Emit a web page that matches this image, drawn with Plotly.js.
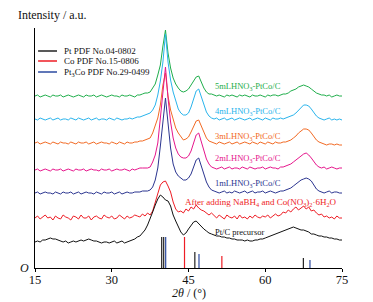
<!DOCTYPE html>
<html>
<head>
<meta charset="utf-8">
<script src="https://cdn.plot.ly/plotly-3.0.1.min.js"></script>
<style>html,body{margin:0;padding:0;background:#fff;}#chart{width:373px;height:302px;}</style>
</head>
<body>
<div id="chart"></div>
<script>
// 2θ grid (degrees)
const twoTheta = [
15,15.5,16,16.5,17,17.5,18,18.5,19,19.5,
20,20.5,21,21.5,22,22.5,23,23.5,24,24.5,
25,25.5,26,26.5,27,27.5,28,28.5,29,29.5,
30,30.5,31,31.5,32,32.5,33,33.5,34,34.5,
35,35.5,36,36.5,37,37.5,38,38.5,39,39.5,
40,40.5,41,41.5,42,42.5,43,43.5,44,44.5,
45,45.5,46,46.5,47,47.5,48,48.5,49,49.5,
50,50.5,51,51.5,52,52.5,53,53.5,54,54.5,
55,55.5,56,56.5,57,57.5,58,58.5,59,59.5,
60,60.5,61,61.5,62,62.5,63,63.5,64,64.5,
65,65.5,66,66.5,67,67.5,68,68.5,69,69.5,
70,70.5,71,71.5,72,72.5,73,73.5,74,74.5,
75];

// Intensities (a.u., offset stacked)
const hno3_5mL = [
172,173,171,172,173,172,171,173,172,172,
173,171,172,173,172,171,172,173,172,171,
173,172,172,173,171,172,173,172,171,172,
173,172,172,171,173,172,172,173,172,171,
173,173,174,175,175,176,180,184,193,203,
222,238,215,200,190,184,180,177,176,177,
179,183,188,191,192,186,180,176,174,174,
173,172,173,172,171,173,172,173,172,171,
173,172,173,172,171,173,172,172,173,172,
171,173,172,173,173,172,173,174,174,175,
177,178,179,181,182,183,182,181,179,177,
175,174,173,173,172,173,171,172,173,172,
172];
const hno3_4mL = [
149,148,150,149,148,149,150,148,149,150,
148,149,149,148,150,149,148,150,149,148,
149,150,148,149,150,148,149,149,148,150,
149,148,150,149,148,149,149,150,149,150,
151,151,152,153,154,155,158,163,173,187,
206,234,206,188,176,166,159,155,153,153,
155,161,170,177,179,172,163,156,152,150,
149,150,148,149,150,148,149,150,148,149,
150,149,148,149,150,148,149,150,149,148,
150,149,148,150,149,149,150,149,150,151,
152,153,155,158,161,163,163,162,159,155,
152,150,149,148,149,150,148,149,148,149,
148];
const hno3_3mL = [
125,126,124,125,126,125,124,126,125,124,
126,125,125,124,126,125,124,126,125,125,
126,124,125,126,124,125,126,125,125,124,
126,125,124,126,125,124,126,125,125,126,
126,127,127,128,129,130,135,142,150,163,
183,195,172,158,148,140,135,131,128,129,
131,136,142,147,148,142,135,130,127,126,
125,124,126,125,124,125,126,124,125,126,
124,125,126,125,124,126,125,124,126,125,
124,126,125,124,126,125,125,126,126,127,
128,130,132,135,137,139,139,138,135,131,
128,126,125,124,123,124,124,123,124,123,
123];
const hno3_2mL = [
98,99,97,98,99,98,97,99,98,98,
99,97,98,99,98,97,99,98,98,99,
97,98,99,98,98,97,99,98,98,99,
97,98,99,98,98,99,98,97,99,98,
99,100,100,100,100,101,106,113,125,150,
175,201,170,146,130,120,114,111,110,110,
112,117,125,133,135,127,117,109,104,101,
100,99,100,101,99,100,101,99,100,100,
99,101,100,99,101,100,99,100,100,101,
99,100,101,100,100,99,101,101,102,103,
104,106,108,110,112,114,115,113,110,106,
103,101,100,101,99,100,101,100,99,100,
100];
const hno3_1mL = [
75,76,74,75,76,75,75,74,76,75,
74,76,75,75,76,74,75,76,74,75,
76,75,75,74,76,75,74,76,75,75,
76,74,75,76,74,75,76,75,75,76,
76,76,77,77,77,78,81,88,100,122,
150,170,145,120,104,96,92,90,88,88,
90,94,101,108,110,102,93,86,81,78,
77,76,75,76,77,75,76,75,77,76,
75,76,77,75,76,77,75,76,76,77,
75,76,77,76,75,76,77,77,78,79,
80,82,84,86,88,89,90,89,87,83,
79,77,76,75,76,77,75,76,76,75,
75];
const afterNaBH4 = [
50,52,49,51,53,50,51,48,52,50,
49,53,51,50,48,52,51,49,53,50,
50,52,48,51,52,50,49,53,51,50,
52,49,50,53,51,49,52,50,51,53,
52,51,54,52,55,53,57,66,75,83,
86,87,82,76,66,59,56,57,55,59,
57,61,59,63,60,58,57,55,53,55,
52,50,53,51,49,53,51,50,52,49,
53,50,51,49,52,50,53,51,50,52,
51,53,50,52,54,52,53,56,55,58,
56,59,61,58,60,62,59,61,57,58,
55,53,54,51,52,50,51,49,52,50,
50];
const ptcPrecursor = [
26,27,26,28,28,29,30,29,29,28,
27,26,27,25,26,27,26,27,28,27,
28,29,28,27,27,26,25,26,26,25,
26,27,25,26,27,25,26,27,28,29,
31,32,35,38,43,49,56,63,69,73,
71,68,67,62,53,47,41,36,33,35,
39,43,46,47,44,42,39,37,35,34,
33,32,32,31,31,30,30,29,29,28,
28,28,27,28,27,27,28,28,29,29,
30,31,32,33,34,35,36,37,38,39,
40,41,40,39,38,38,37,36,34,34,
33,32,32,31,31,30,30,29,29,28,
28];

// Standard card stick positions (2θ) and relative heights
const ptPos = [39.76, 40.15, 46.24, 67.45];
const ptInt = [31, 31, 16, 10];
const coPos = [44.22, 51.52];
const coInt = [31, 12];
const pt3coPos = [40.54, 47.05, 68.74];
const pt3coInt = [31, 14, 8];

const seriesNames = ['5mLHNO<sub>3</sub>-PtCo/C','4mLHNO<sub>3</sub>-PtCo/C','3mLHNO<sub>3</sub>-PtCo/C',
  '2mLHNO<sub>3</sub>-PtCo/C','1mLHNO<sub>3</sub>-PtCo/C',
  'After adding NaBH<sub>4</sub> and Co(NO<sub>3</sub>)<sub>2</sub>·6H<sub>2</sub>O','Pt/C precursor'];
const legendNames = ['Pt PDF No.04-0802','Co PDF No.15-0806','Pt<sub>3</sub>Co PDF No.29-0499'];
const xTicks = [15, 30, 45, 60, 75];

const colors = ['#1fae4b','#29b4ec','#f26a24','#e6168c','#2b3590','#ee1d25','#111111'];
const stickColors = ['#222222','#ee1d25','#2b4aa0'];
const FONT = 'Liberation Serif';

const curves = [hno3_5mL, hno3_4mL, hno3_3mL, hno3_2mL, hno3_1mL, afterNaBH4, ptcPrecursor];
const traces = curves.map((c, i) => ({
  type: 'scatter', mode: 'lines', x: twoTheta, y: c,
  line: {color: colors[i], width: 1}, showlegend: false, hoverinfo: 'skip'
}));

function sticks(pos, inten, color) {
  const x = [], y = [];
  pos.forEach((p, i) => { x.push(p, p, null); y.push(0, inten[i], null); });
  return {type: 'scatter', mode: 'lines', x: x, y: y, line: {color: color, width: 1.2},
    showlegend: false, hoverinfo: 'skip', connectgaps: false};
}
traces.push(sticks(ptPos, ptInt, stickColors[0]));
traces.push(sticks(coPos, coInt, stickColors[1]));
traces.push(sticks(pt3coPos, pt3coInt, stickColors[2]));

// label positions (x in 2θ, y in intensity units)
const labelX = [49.8, 49.8, 49.8, 49.8, 49.8, 43.95, 49.8];
const labelY = [182, 157, 132, 110, 85, 66, 36];

const annotations = seriesNames.map((t, i) => ({
  x: labelX[i], y: labelY[i], xref: 'x', yref: 'y', text: t, showarrow: false,
  xanchor: 'left', yanchor: 'middle', font: {family: FONT, size: i === 5 ? 9 : 8.5, color: colors[i]}
}));

const legY = [217, 207, 196];
const shapes = [];
legendNames.forEach((t, i) => {
  shapes.push({type: 'line', xref: 'x', yref: 'y', x0: 15.6, x1: 19.3, y0: legY[i], y1: legY[i],
    line: {color: stickColors[i], width: 1.5}});
  annotations.push({x: 20.2, y: legY[i], xref: 'x', yref: 'y', text: t, showarrow: false,
    xanchor: 'left', yanchor: 'middle', font: {family: FONT, size: 9, color: '#111'}});
});

// origin label
annotations.push({x: -0.012, y: 0, xref: 'paper', yref: 'y', text: '<i>O</i>', showarrow: false,
  xanchor: 'right', yanchor: 'middle', font: {family: FONT, size: 12, color: '#111'}});
// x axis title
annotations.push({x: 0.5, y: -0.106, xref: 'paper', yref: 'paper', text: '<i>2θ</i> / (°)', showarrow: false,
  xanchor: 'center', yanchor: 'middle', font: {family: FONT, size: 12, color: '#111'}});
// y axis arrow head
annotations.push({x: 15, y: 241, xref: 'x', yref: 'y', text: '', showarrow: true,
  ax: 0, ay: 12, arrowhead: 2, arrowsize: 0.9, arrowwidth: 1, arrowcolor: '#000', standoff: 0});

const layout = {
  width: 373, height: 302,
  margin: {l: 35, r: 31, t: 28, b: 34, pad: 0},
  paper_bgcolor: '#fff', plot_bgcolor: '#fff',
  showlegend: false,
  font: {family: FONT, color: '#111'},
  title: {text: 'Intensity / a.u.', x: 0.048, xref: 'container', xanchor: 'left',
    y: 0.95, yref: 'container', yanchor: 'middle', font: {family: FONT, size: 12, color: '#111'}},
  xaxis: {range: [15, 75], tickvals: xTicks, ticktext: xTicks.map(String), automargin: false,
    showline: true, linecolor: '#000', linewidth: 1, ticks: 'outside', ticklen: 3, tickcolor: '#000',
    ticklabelstandoff: -3,
    showgrid: false, zeroline: false, tickfont: {family: FONT, size: 12.5, color: '#111'}},
  yaxis: {range: [0, 240], showline: true, linecolor: '#000', linewidth: 1, ticks: '', automargin: false,
    showticklabels: false, showgrid: false, zeroline: false},
  annotations: annotations,
  shapes: shapes
};

Plotly.newPlot('chart', traces, layout, {staticPlot: true, displayModeBar: false});
</script>
</body>
</html>
